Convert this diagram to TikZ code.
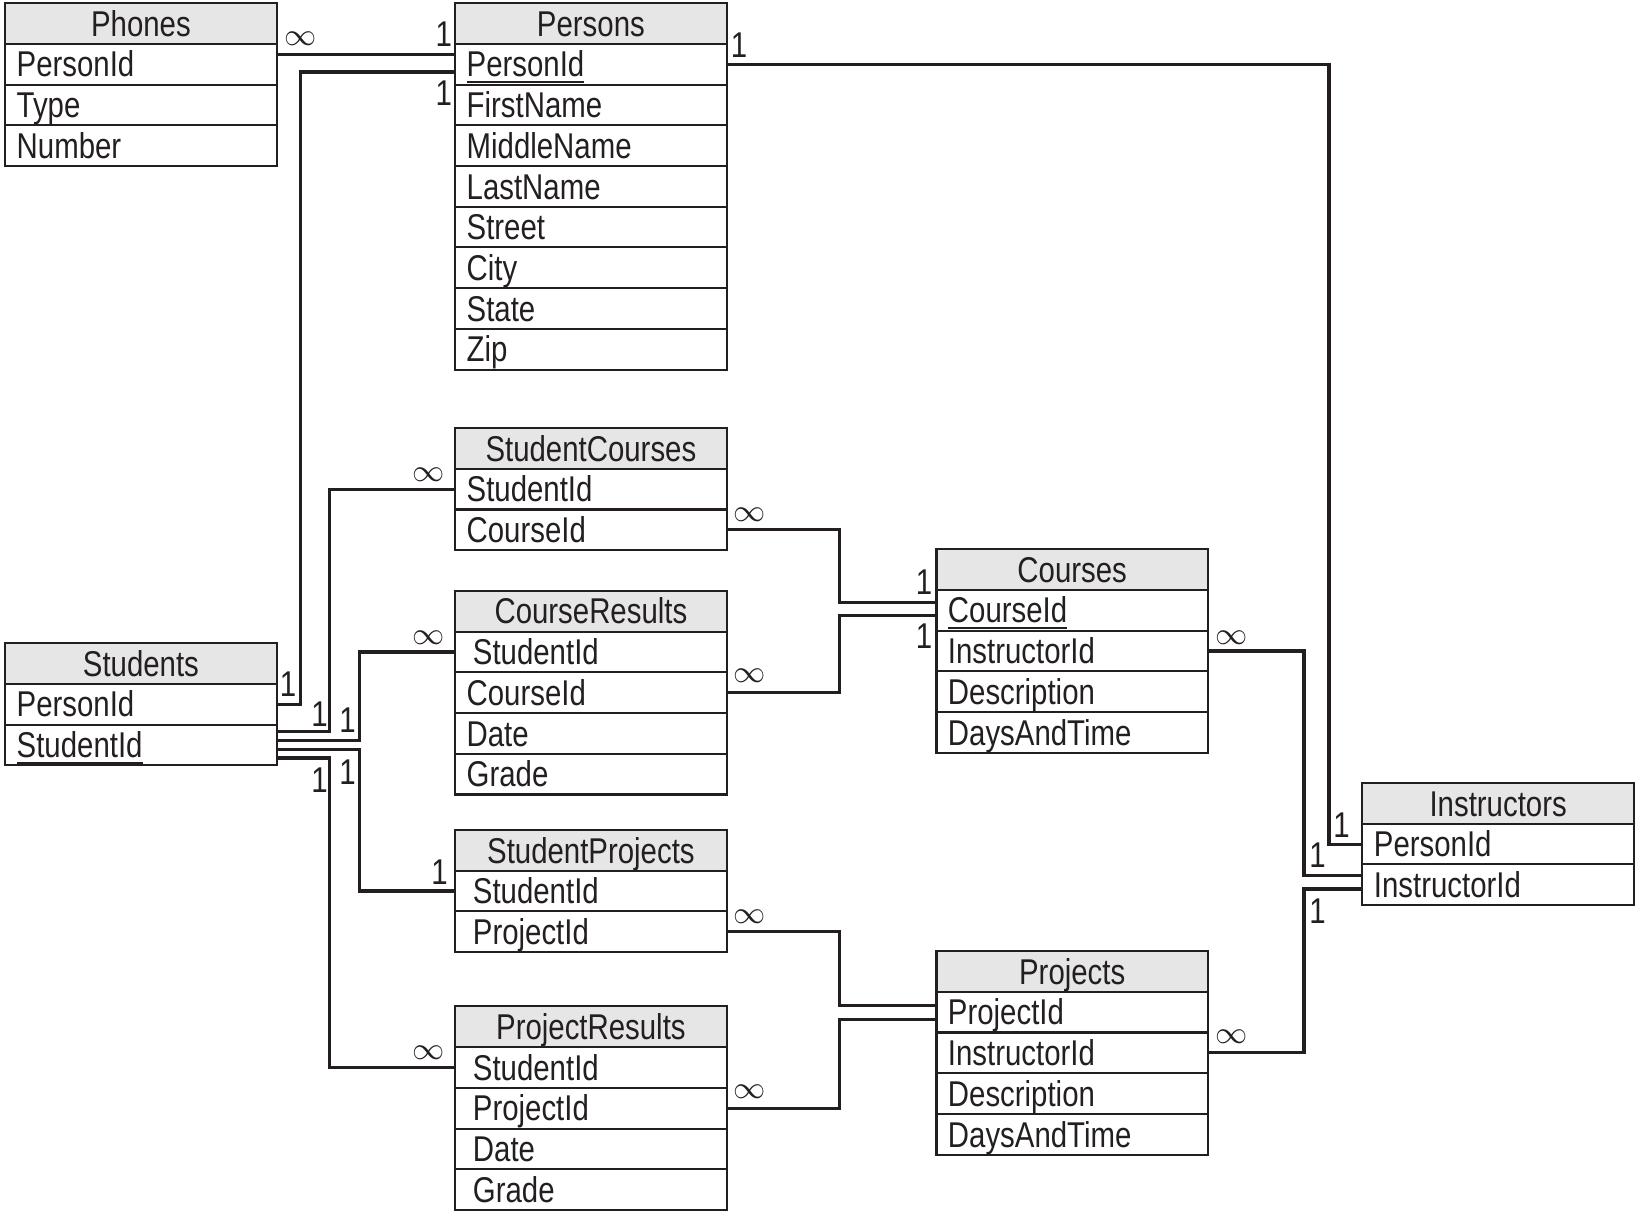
\documentclass[tikz,border=0pt]{standalone}
\usepackage{fontspec}
\setmainfont[FakeStretch=0.82]{Liberation Sans}
\usetikzlibrary{positioning,calc}
\definecolor{linec}{HTML}{231F20}
\definecolor{headc}{HTML}{E6E6E6}

\begin{document}
\begin{tikzpicture}[x=0.3pt, y=-0.3pt,
  font=\fontsize{10.3}{12}\selectfont,
  row/.style={rectangle, draw=linec, line width=0.6pt, outer sep=0pt,
    inner ysep=0pt, inner xsep=3.3pt, text width=71.4pt, minimum height=11.7pt,
    text height=7.5pt, text depth=0.2pt, align=left, text=linec},
  rowb/.style={row, inner xsep=5.1pt, text width=67.8pt},
  head/.style={row, fill=headc, align=center},
  link/.style={draw=linec, line width=0.9pt},
  card/.style={text=linec, inner sep=0pt},
  many/.style={card, font=\fontsize{9}{9}\selectfont}]

\useasboundingbox (0,0) rectangle (1568,1163);

% ---------- Phones ----------
\node[head] (phones) at (135,22.5) {Phones};
\node[row, below=0pt of phones] (phones-1) {PersonId};
\node[row, below=0pt of phones-1] (phones-2) {Type};
\node[row, below=0pt of phones-2] (phones-3) {Number};

% ---------- Persons ----------
\node[head] (persons) at (566,22.5) {Persons};
\node[row, below=0pt of persons] (persons-1) {\underline{PersonId}};
\node[row, below=0pt of persons-1] (persons-2) {FirstName};
\node[row, below=0pt of persons-2] (persons-3) {MiddleName};
\node[row, below=0pt of persons-3] (persons-4) {LastName};
\node[row, below=0pt of persons-4] (persons-5) {Street};
\node[row, below=0pt of persons-5] (persons-6) {City};
\node[row, below=0pt of persons-6] (persons-7) {State};
\node[row, below=0pt of persons-7] (persons-8) {Zip};

% ---------- Students ----------
\node[head] (students) at (135,635.5) {Students};
\node[row, below=0pt of students] (students-1) {PersonId};
\node[row, below=0pt of students-1] (students-2) {\underline{StudentId}};

% ---------- StudentCourses ----------
\node[head] (studentcourses) at (566,429.5) {StudentCourses};
\node[row, below=0pt of studentcourses] (studentcourses-1) {StudentId};
\node[row, below=0pt of studentcourses-1] (studentcourses-2) {CourseId};

% ---------- CourseResults ----------
\node[head] (courseresults) at (566,585.5) {CourseResults};
\node[rowb, below=0pt of courseresults] (courseresults-1) {StudentId};
\node[row, below=0pt of courseresults-1] (courseresults-2) {CourseId};
\node[row, below=0pt of courseresults-2] (courseresults-3) {Date};
\node[row, below=0pt of courseresults-3] (courseresults-4) {Grade};

% ---------- StudentProjects ----------
\node[head] (studentprojects) at (566,814.5) {StudentProjects};
\node[rowb, below=0pt of studentprojects] (studentprojects-1) {StudentId};
\node[rowb, below=0pt of studentprojects-1] (studentprojects-2) {ProjectId};

% ---------- ProjectResults ----------
\node[head] (projectresults) at (566,983.5) {ProjectResults};
\node[rowb, below=0pt of projectresults] (projectresults-1) {StudentId};
\node[rowb, below=0pt of projectresults-1] (projectresults-2) {ProjectId};
\node[rowb, below=0pt of projectresults-2] (projectresults-3) {Date};
\node[rowb, below=0pt of projectresults-3] (projectresults-4) {Grade};

% ---------- Courses ----------
\node[head] (courses) at (1027,545.5) {Courses};
\node[row, below=0pt of courses] (courses-1) {\underline{CourseId}};
\node[row, below=0pt of courses-1] (courses-2) {InstructorId};
\node[row, below=0pt of courses-2] (courses-3) {Description};
\node[row, below=0pt of courses-3] (courses-4) {DaysAndTime};

% ---------- Projects ----------
\node[head] (projects) at (1027,930.5) {Projects};
\node[row, below=0pt of projects] (projects-1) {\underline{\raisebox{0pt}[\height][0.6pt]{ProjectId}}};
\node[row, below=0pt of projects-1] (projects-2) {InstructorId};
\node[row, below=0pt of projects-2] (projects-3) {Description};
\node[row, below=0pt of projects-3] (projects-4) {DaysAndTime};

% ---------- Instructors ----------
\node[head] (instructors) at (1435,769.5) {Instructors};
\node[row, below=0pt of instructors] (instructors-1) {PersonId};
\node[row, below=0pt of instructors-1] (instructors-2) {InstructorId};

% ---------- links ----------
\draw[link] ($(phones-1.east)+(0,-9.5)$) -- ($(persons-1.west)+(0,-9.5)$);
\draw[link] (students-1.east) -- ++(23,0) |- ($(persons-1.west)+(0,7.5)$);
\draw[link] (persons-1.east) -- ++(577,0) |- (instructors-1.west);

\draw[link] ($(students-2.east)+(0,-12.5)$) -- ++(51,0) |- (studentcourses-1.west);
\draw[link] ($(students-2.east)+(0,-4.5)$) -- ++(79,0) |- (courseresults-1.west);
\draw[link] ($(students-2.east)+(0,4.5)$) -- ++(79,0) |- (studentprojects-1.west);
\draw[link] ($(students-2.east)+(0,12.5)$) -- ++(51,0) |- (projectresults-1.west);

\draw[link] (studentcourses-2.east) -- ++(108,0) |- ($(courses-1.west)+(0,-7)$);
\draw[link] (courseresults-2.east) -- ++(108,0) |- ($(courses-1.west)+(0,5)$);
\draw[link] (studentprojects-2.east) -- ++(108,0) |- ($(projects-1.west)+(0,-6)$);
\draw[link] (projectresults-2.east) -- ++(108,0) |- ($(projects-1.west)+(0,7)$);

\draw[link] (courses-2.east) -- ++(92,0) |- ($(instructors-2.west)+(0,-9)$);
\draw[link] (projects-2.east) -- ++(92,0) |- ($(instructors-2.west)+(0,4)$);

% ---------- cardinalities ----------
\node[many] (m1) at (288,37) {$\infty$};
\node[card] (o1) at (425,33) {1};
\node[card] (o2) at (425,89) {1};
\node[card] (o3) at (708,43) {1};

\node[card] (o4) at (276,655) {1};
\node[card] (o5) at (306,684) {1};
\node[card] (o6) at (333,690) {1};
\node[card] (o7) at (306,747) {1};
\node[card] (o8) at (333,740) {1};

\node[many] (m2) at (411,455) {$\infty$};
\node[many] (m3) at (718,493) {$\infty$};
\node[many] (m4) at (411,611) {$\infty$};
\node[many] (m5) at (718,647) {$\infty$};
\node[card] (o9) at (421,835) {1};
\node[many] (m6) at (718,878) {$\infty$};
\node[many] (m7) at (411,1008) {$\infty$};
\node[many] (m8) at (718,1046) {$\infty$};

\node[card] (o10) at (885,558) {1};
\node[card] (o11) at (885,609) {1};
\node[many] (m9) at (1180,611) {$\infty$};
\node[many] (m10) at (1180,993) {$\infty$};

\node[card] (o12) at (1285,790) {1};
\node[card] (o13) at (1262,819) {1};
\node[card] (o14) at (1262,873) {1};

\end{tikzpicture}
\end{document}
